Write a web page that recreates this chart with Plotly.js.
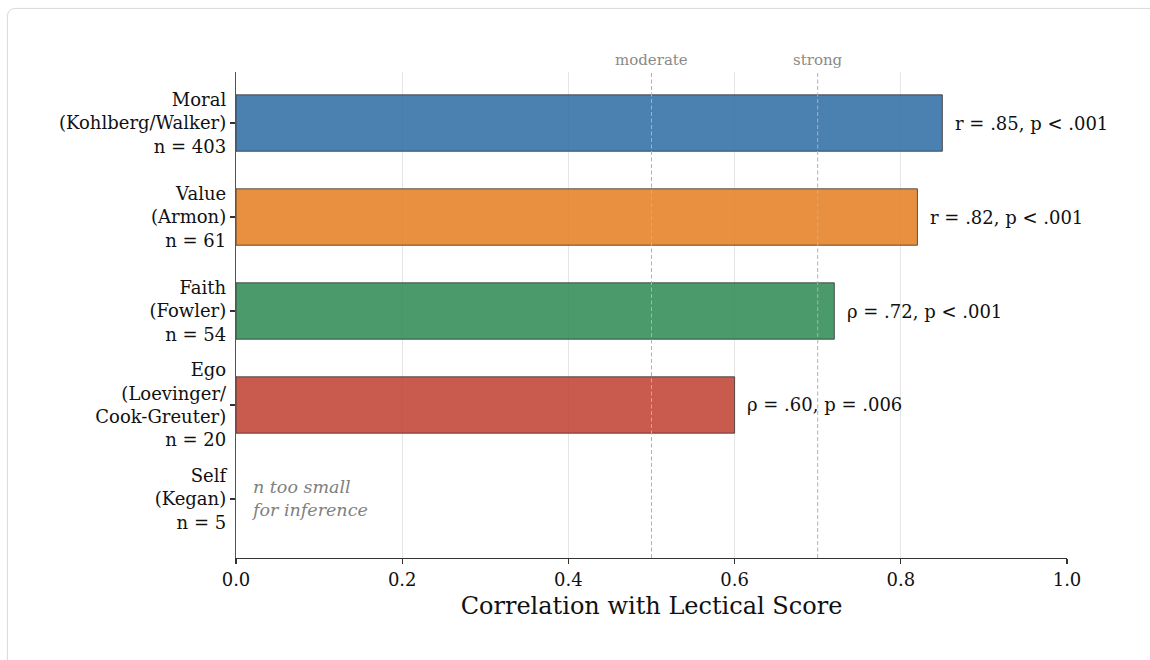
<!DOCTYPE html>
<html>
<head>
<meta charset="utf-8">
<script src="https://cdn.plot.ly/plotly-3.0.1.min.js"></script>
<style>
  html, body { margin: 0; padding: 0; background: #ffffff; overflow: hidden; }
  #card {
    position: absolute; left: 7px; top: 8px; width: 1170px; height: 680px;
    border: 1px solid #dcdcdc; border-radius: 8px; background: #ffffff;
    box-shadow: 0 0 2px rgba(0,0,0,0.06);
  }
  #chart { position: absolute; left: 0; top: 0; width: 1150px; height: 660px; }
</style>
</head>
<body>
<div id="card"></div>
<div id="chart"></div>
<script>
// Developmental domains, top to bottom
const domains = ["Moral", "Value", "Faith", "Ego", "Self"];
const tickLabels = [
  "Moral<br>(Kohlberg/Walker)<br>n = 403",
  "Value<br>(Armon)<br>n = 61",
  "Faith<br>(Fowler)<br>n = 54",
  "Ego<br>(Loevinger/<br>Cook-Greuter)<br>n = 20",
  "Self<br>(Kegan)<br>n = 5"
];
// Correlation with Lectical score (Self has no estimate)
const correlations = [0.85, 0.82, 0.72, 0.60, null];
const statLabels = ["r = .85, p < .001", "r = .82, p < .001", "ρ = .72, p < .001", "ρ = .60, p = .006", ""];
const barColors = ["rgba(42,107,162,0.85)", "rgba(228,124,29,0.85)", "rgba(44,136,81,0.85)", "rgba(191,61,47,0.85)", "rgba(0,0,0,0)"];
const thresholds = [0.5, 0.7];
const thresholdNames = ["moderate", "strong"];
const xTicks = [0, 0.2, 0.4, 0.6, 0.8, 1.0];
const xTickText = ["0.0", "0.2", "0.4", "0.6", "0.8", "1.0"];

const serif = "DejaVu Serif, serif";

// Reference lines for moderate / strong correlation
const shapes = thresholds.map(t => ({
  type: "line", xref: "x", yref: "paper", x0: t, x1: t, y0: 0, y1: 1,
  line: { color: "#b0b0b0", width: 1, dash: "4px,2.5px" }, layer: "above"
}));

const annotations = [];
domains.forEach((d, i) => {
  if (correlations[i] !== null) {
    annotations.push({
      x: correlations[i] + 0.015, y: d, xref: "x", yref: "y", xshift: -2,
      text: statLabels[i], showarrow: false, xanchor: "left", yanchor: "middle",
      font: { family: serif, size: 18, color: "#111111" }
    });
  }
});
annotations.push({
  x: 0.02, y: "Self", xref: "x", yref: "y", xshift: -4,
  text: "<i>n too small<br>for inference</i>", showarrow: false,
  xanchor: "left", yanchor: "middle", align: "left",
  font: { family: serif, size: 17.5, color: "#808080" }
});
thresholds.forEach((t, i) => {
  annotations.push({
    x: t, y: 1, xref: "x", yref: "paper", yshift: 1,
    text: thresholdNames[i], showarrow: false, xanchor: "center", yanchor: "bottom",
    font: { family: serif, size: 15, color: "#8a8a8a" }
  });
});

const trace = {
  type: "bar", orientation: "h",
  y: domains, x: correlations,
  width: 0.6,
  marker: { color: barColors, line: { color: "rgba(50,50,50,0.8)", width: 1 } },
  hoverinfo: "skip"
};

const layout = {
  width: 1150, height: 660,
  margin: { l: 236, r: 83, t: 72, b: 102 },
  paper_bgcolor: "rgba(0,0,0,0)", plot_bgcolor: "rgba(0,0,0,0)",
  showlegend: false,
  font: { family: serif, color: "#111111" },
  xaxis: {
    range: [0, 1.0], tickvals: xTicks, ticktext: xTickText,
    showgrid: true, gridcolor: "#e6e6e6", gridwidth: 1, zeroline: false,
    showline: true, linecolor: "#333333", linewidth: 1.2,
    ticks: "outside", ticklen: 5, tickwidth: 1.2, tickcolor: "#333333",
    tickfont: { family: serif, size: 18, color: "#111111" },
    title: { text: "Correlation with Lectical Score", font: { family: serif, size: 24, color: "#111111" }, standoff: 8 }
  },
  yaxis: {
    type: "category", categoryorder: "array", categoryarray: domains,
    range: [4.628, -0.543],
    tickvals: domains, ticktext: tickLabels,
    showgrid: false, zeroline: false,
    showline: true, linecolor: "#555555", linewidth: 1.2,
    ticks: "outside", ticklen: 5, tickwidth: 1.2, tickcolor: "#333333",
    tickfont: { family: serif, size: 18, color: "#111111" }
  },
  shapes: shapes,
  annotations: annotations
};

Plotly.newPlot("chart", [trace], layout, { displayModeBar: false, staticPlot: true });
</script>
</body>
</html>
